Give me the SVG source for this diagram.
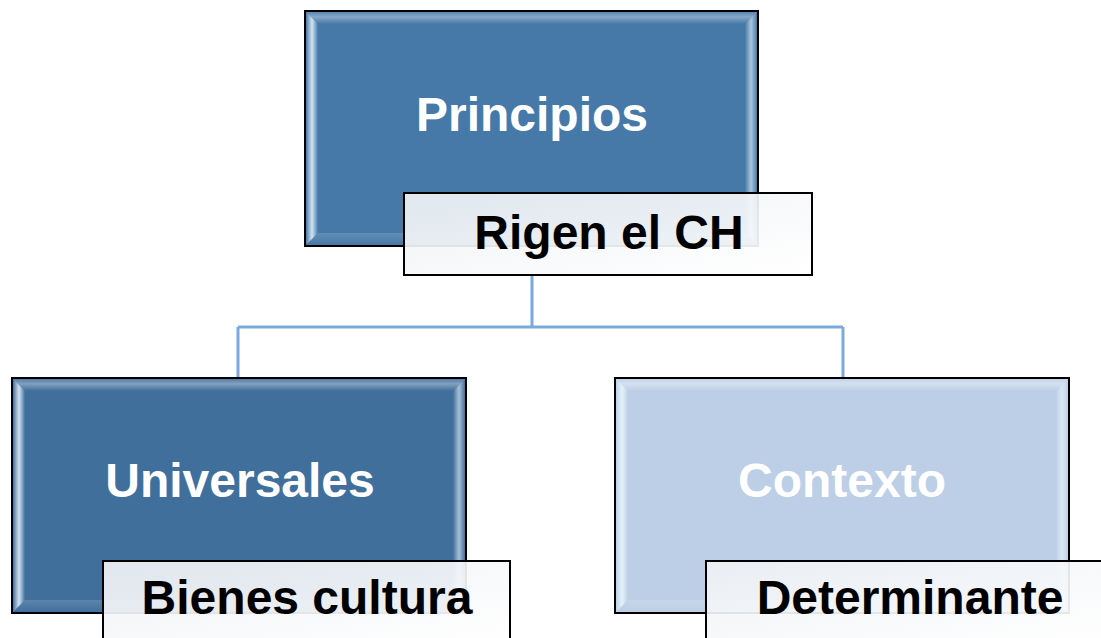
<svg xmlns="http://www.w3.org/2000/svg" width="1101" height="638" viewBox="0 0 1101 638">
<defs>
<linearGradient id="gL" x1="0" y1="0" x2="1" y2="0">
<stop offset="0" stop-color="#ffffff" stop-opacity="0"/>
<stop offset="0.5" stop-color="#e8f6ff" stop-opacity="0.85"/>
<stop offset="1" stop-color="#ffffff" stop-opacity="0"/>
</linearGradient>
<linearGradient id="gR" x1="0" y1="0" x2="1" y2="0">
<stop offset="0" stop-color="#ffffff" stop-opacity="0"/>
<stop offset="0.5" stop-color="#e8f6ff" stop-opacity="0.6"/>
<stop offset="1" stop-color="#ffffff" stop-opacity="0"/>
</linearGradient>
<linearGradient id="gT" x1="0" y1="0" x2="0" y2="1">
<stop offset="0" stop-color="#ffffff" stop-opacity="0.1"/>
<stop offset="0.4" stop-color="#ffffff" stop-opacity="0.35"/>
<stop offset="1" stop-color="#ffffff" stop-opacity="0"/>
</linearGradient>
<linearGradient id="gB" x1="0" y1="0" x2="0" y2="1">
<stop offset="0" stop-color="#ffffff" stop-opacity="0.15"/>
<stop offset="1" stop-color="#ffffff" stop-opacity="0"/>
</linearGradient>
<linearGradient id="gLab" x1="0" y1="0" x2="1" y2="1">
<stop offset="0" stop-color="#eef1f5" stop-opacity="0.92"/>
<stop offset="1" stop-color="#ffffff" stop-opacity="0.92"/>
</linearGradient>
</defs>
<style>
.outer{stroke:#000;stroke-width:2}
.dark{fill:#4679a8}
.dark2{fill:#416f9c}
.light{fill:#bccfe6}
.bl{fill:url(#gL)}
.br{fill:url(#gR)}
.bt{fill:url(#gT)}
.bb{fill:url(#gB)}
.lab{fill:url(#gLab);stroke:#000;stroke-width:2}
.t{font-family:"Liberation Sans",Arial,sans-serif;font-weight:bold;font-size:48px;text-anchor:middle}
.tw{fill:#fff}
.tb{fill:#000}
.conn{fill:none;stroke:#7aa9dd;stroke-width:3}
</style>
<rect width="1101" height="638" fill="#fff"/>
<g id="connectors">
<path class="conn" d="M532 275 V327 M238 327 H843 M238 327 V378 M843 327 V378"/>
</g>
<g id="node-principios">
<rect class="outer dark" x="305" y="11" width="453" height="235"/>
<polygon class="bt" points="306,12 757,12 745,24 318,24"/>
<polygon class="bl" points="306,12 318,24 318,233 306,245"/>
<polygon class="br" points="757,12 745,24 745,233 757,245"/>
<polygon class="bb" points="306,245 318,233 745,233 757,245"/>
<text class="t tw" x="532" y="131">Principios</text>
</g>
<g id="label-rigen">
<rect class="lab" x="404" y="193" width="408" height="82"/>
<text class="t tb" x="609" y="249">Rigen el CH</text>
</g>
<g id="node-universales">
<rect class="outer dark2" x="12" y="378" width="454" height="235"/>
<polygon class="bt" points="13,379 465,379 453,391 25,391"/>
<polygon class="bl" points="13,379 25,391 25,600 13,612"/>
<polygon class="br" points="465,379 453,391 453,600 465,612"/>
<polygon class="bb" points="13,612 25,600 453,600 465,612"/>
<text class="t tw" x="240" y="497">Universales</text>
</g>
<g id="label-bienes">
<rect class="lab" x="103" y="561" width="407" height="82"/>
<text class="t tb" x="307" y="614">Bienes cultura</text>
</g>
<g id="node-contexto">
<rect class="outer light" x="615" y="378" width="454" height="235"/>
<polygon class="bt" points="616,379 1068,379 1056,391 628,391"/>
<polygon class="bl" points="616,379 628,391 628,600 616,612"/>
<polygon class="br" points="1068,379 1056,391 1056,600 1068,612"/>
<polygon class="bb" points="616,612 628,600 1056,600 1068,612"/>
<text class="t tw" x="842" y="497">Contexto</text>
</g>
<g id="label-determinante">
<rect class="lab" x="706" y="561" width="408" height="82"/>
<text class="t tb" x="910" y="614">Determinante</text>
</g>
</svg>
